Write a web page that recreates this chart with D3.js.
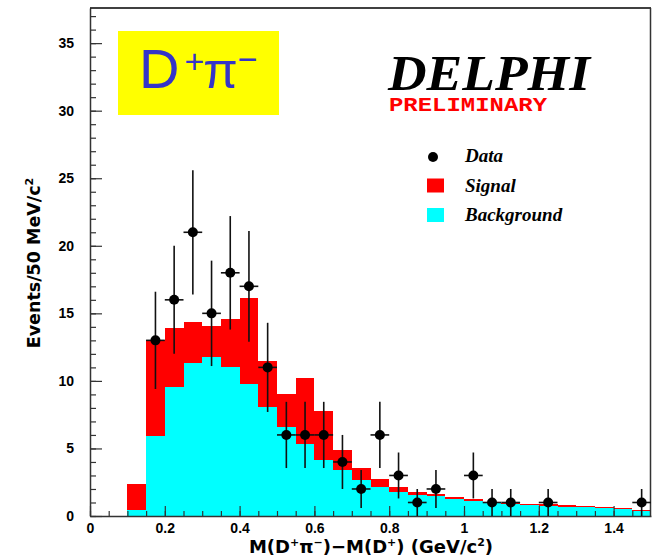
<!DOCTYPE html>
<html>
<head>
<meta charset="utf-8">
<script src="https://cdn.jsdelivr.net/npm/d3@7"></script>
<style>
  body { margin: 0; background: #fff; }
  svg { display: block; }
</style>
</head>
<body>
<svg class="delphi" width="652" height="558"></svg>
<script>
// lower edges of the 50 MeV bins
const binLow = [0.10, 0.15, 0.20, 0.25, 0.30, 0.35, 0.40, 0.45, 0.50, 0.55,
                0.60, 0.65, 0.70, 0.75, 0.80, 0.85, 0.90, 0.95, 1.00, 1.05,
                1.10, 1.15, 1.20, 1.25, 1.30, 1.35, 1.40, 1.45];
const binWidth = 0.05;

// signal + background (red top) and background alone (cyan)
const totalFit = [2.4, 13.05, 13.95, 14.35, 14.1, 14.6, 16.15, 11.45, 9.0, 10.2,
                  7.8, 4.9, 3.55, 2.75, 2.15, 1.8, 1.6, 1.4, 1.25, 1.0,
                  0.95, 0.9, 0.88, 0.8, 0.72, 0.66, 0.58, 0.45];
const background = [0.45, 5.95, 9.55, 11.3, 11.75, 11.0, 9.75, 8.1, 6.6, 5.3,
                    4.15, 3.4, 2.65, 2.15, 1.8, 1.55, 1.45, 1.25, 1.1, 0.95,
                    0.9, 0.82, 0.75, 0.7, 0.64, 0.58, 0.52, 0.38];

// data points
const dataMass   = [0.175, 0.225, 0.275, 0.325, 0.375, 0.425, 0.475, 0.525, 0.575, 0.625,
                    0.675, 0.725, 0.775, 0.825, 0.875, 0.925, 1.025, 1.075, 1.125, 1.225, 1.475];
const dataCounts = [13, 16, 21, 15, 18, 17, 11, 6, 6, 6,
                    4, 2, 6, 3, 1, 2, 3, 1, 1, 1, 1];
const dataErrors = [3.6, 4.0, 4.6, 3.9, 4.2, 4.1, 3.3, 2.45, 2.45, 2.45,
                    2.0, 1.4, 2.45, 1.7, 1.0, 1.4, 1.7, 1.0, 1.0, 1.0, 1.0];

const yMajor = [0, 5, 10, 15, 20, 25, 30, 35];
const xMajor = [0, 0.2, 0.4, 0.6, 0.8, 1.0, 1.2, 1.4];

const legendItems = [
    { label: 'Data', kind: 'dot' },
    { label: 'Signal', kind: 'box', color: '#ff0000' },
    { label: 'Background', kind: 'box', color: '#00ffff' }
];

const svg = d3.select('svg.delphi');

const plotLeft = 90, plotRight = 651, plotTop = 8, plotBottom = 516;

const xScale = d3.scaleLinear().domain([0, 1.5]).range([plotLeft, plotRight]);
const yScale = d3.scaleLinear().domain([0, 37.6]).range([plotBottom, plotTop]);

// histograms
const bins = binLow.map((x, i) => ({ x, total: totalFit[i], bg: background[i] }));

svg.append('g').selectAll('rect').data(bins)
    .enter().append('rect')
    .attr('x', d => xScale(d.x))
    .attr('y', d => yScale(d.total))
    .attr('width', d => xScale(d.x + binWidth) - xScale(d.x))
    .attr('height', d => yScale(0) - yScale(d.total))
    .attr('fill', '#ff0000')
    .attr('shape-rendering', 'crispEdges');

svg.append('g').selectAll('rect').data(bins)
    .enter().append('rect')
    .attr('x', d => xScale(d.x))
    .attr('y', d => yScale(d.bg))
    .attr('width', d => xScale(d.x + binWidth) - xScale(d.x))
    .attr('height', d => yScale(0) - yScale(d.bg))
    .attr('fill', '#00ffff')
    .attr('shape-rendering', 'crispEdges');

// axes
const axisColor = '#333';

const yAxisMinor = d3.axisLeft(yScale).tickValues(d3.range(0, 38, 1)).tickSize(-6).tickFormat('');
const yAxisMajor = d3.axisLeft(yScale).tickValues(yMajor).tickSize(-12).tickSizeOuter(0).tickPadding(16);

svg.append('g').attr('transform', `translate(${plotLeft},0)`).call(yAxisMinor)
    .call(g => g.select('.domain').remove());
svg.append('g').attr('transform', `translate(${plotLeft},0)`).call(yAxisMajor);

const xAxisMinor = d3.axisBottom(xScale).tickValues(d3.range(0, 1.5, 0.05)).tickSize(-5).tickFormat('');
const xAxisMajor = d3.axisBottom(xScale).tickValues(xMajor).tickSize(-10).tickSizeOuter(0)
    .tickPadding(7).tickFormat(d => d3.format('~g')(d));

svg.append('g').attr('transform', `translate(0,${plotBottom})`).call(xAxisMinor)
    .call(g => g.select('.domain').remove());
svg.append('g').attr('transform', `translate(0,${plotBottom})`).call(xAxisMajor);

svg.selectAll('.tick line').attr('stroke', axisColor).attr('stroke-width', 1.2);
svg.selectAll('.domain').attr('stroke', axisColor).attr('stroke-width', 1.5);
svg.selectAll('.tick text')
    .attr('fill', '#000')
    .style('font-family', '"Liberation Sans", Arial, sans-serif')
    .style('font-weight', 'bold')
    .style('font-size', '14px');

// frame top / right
svg.append('line').attr('x1', plotLeft).attr('x2', plotRight).attr('y1', plotTop).attr('y2', plotTop)
    .attr('stroke', '#000').attr('stroke-width', 1.5);
svg.append('line').attr('x1', plotRight - 0.5).attr('x2', plotRight - 0.5).attr('y1', plotTop).attr('y2', plotBottom)
    .attr('stroke', axisColor).attr('stroke-width', 1.5);

// data with error bars
const pts = dataMass.map((m, i) => ({ m, n: dataCounts[i], e: dataErrors[i] }));
const gp = svg.append('g');
gp.selectAll('line.ey').data(pts).enter().append('line')
    .attr('class', 'ey')
    .attr('x1', d => xScale(d.m)).attr('x2', d => xScale(d.m))
    .attr('y1', d => yScale(d.n - d.e)).attr('y2', d => yScale(d.n + d.e))
    .attr('stroke', '#111').attr('stroke-width', 1.6);
gp.selectAll('line.ex').data(pts).enter().append('line')
    .attr('class', 'ex')
    .attr('x1', d => xScale(d.m - binWidth / 2)).attr('x2', d => xScale(d.m + binWidth / 2))
    .attr('y1', d => yScale(d.n)).attr('y2', d => yScale(d.n))
    .attr('stroke', '#111').attr('stroke-width', 1.6);
gp.selectAll('circle').data(pts).enter().append('circle')
    .attr('cx', d => xScale(d.m)).attr('cy', d => yScale(d.n))
    .attr('r', 5).attr('fill', '#000');

// axis titles
const xTitle = svg.append('text')
    .attr('x', 371).attr('y', 553)
    .attr('text-anchor', 'middle')
    .style('font-family', '"DejaVu Sans", sans-serif')
    .style('font-weight', 'bold')
    .style('font-size', '18px');
xTitle.append('tspan').text('M(D');
xTitle.append('tspan').attr('dy', -7).style('font-size', '11px').text('+');
xTitle.append('tspan').attr('dy', 7).text('π');
xTitle.append('tspan').attr('dy', -7).style('font-size', '11px').text('−');
xTitle.append('tspan').attr('dy', 7).text(')−M(D');
xTitle.append('tspan').attr('dy', -7).style('font-size', '11px').text('+');
xTitle.append('tspan').attr('dy', 7).text(') (GeV/c');
xTitle.append('tspan').attr('dy', -7).style('font-size', '11px').text('2');
xTitle.append('tspan').attr('dy', 7).text(')');

const yTitle = svg.append('text')
    .attr('transform', 'translate(40,263) rotate(-90)')
    .attr('text-anchor', 'middle')
    .style('font-family', '"DejaVu Sans", sans-serif')
    .style('font-weight', 'bold')
    .style('font-size', '17.5px');
yTitle.append('tspan').text('Events/50 MeV/c');
yTitle.append('tspan').attr('dy', -7).style('font-size', '11px').text('2');

// D+pi- label box
svg.append('rect').attr('x', 118).attr('y', 31).attr('width', 161).attr('height', 84)
    .attr('fill', '#ffff00');
const title = svg.append('text')
    .attr('x', 139).attr('y', 88)
    .attr('fill', '#3434c8')
    .style('font-family', '"Liberation Sans", Arial, sans-serif')
    .style('font-size', '56px');
title.append('tspan').text('D');
title.append('tspan').attr('dy', -15).attr('dx', 5).style('font-size', '34px').text('+');
title.append('tspan').attr('dy', 15).attr('dx', -1).style('font-size', '50px').text('π');
title.append('tspan').attr('dy', -17).style('font-size', '34px').text('−');

// DELPHI logo
svg.append('text').attr('x', 388).attr('y', 90)
    .attr('textLength', 202).attr('lengthAdjust', 'spacingAndGlyphs')
    .style('font-family', '"Liberation Serif", "Times New Roman", serif')
    .style('font-weight', 'bold').style('font-style', 'italic')
    .style('font-size', '50px')
    .text('DELPHI');
svg.append('text').attr('x', 389).attr('y', 111)
    .attr('fill', '#ff0000')
    .attr('textLength', 158).attr('lengthAdjust', 'spacingAndGlyphs')
    .style('font-family', '"Liberation Mono", "Courier New", monospace')
    .style('font-weight', 'bold')
    .style('font-size', '20px')
    .text('PRELIMINARY');

// legend
const legend = svg.append('g').attr('transform', 'translate(427,148)')
    .selectAll('.legends').data(legendItems)
    .enter().append('g').attr('class', 'legends')
    .attr('transform', (d, i) => `translate(0,${i * 29.5})`);
legend.filter(d => d.kind === 'dot').append('circle')
    .attr('cx', 6).attr('cy', 9).attr('r', 5).attr('fill', '#000');
legend.filter(d => d.kind === 'box').append('rect')
    .attr('x', 0).attr('y', 1).attr('width', 17).attr('height', 14)
    .attr('fill', d => d.color);
legend.append('text')
    .attr('x', 38).attr('y', 14)
    .style('font-family', '"Liberation Serif", "Times New Roman", serif')
    .style('font-weight', 'bold').style('font-style', 'italic')
    .style('font-size', '19px')
    .text(d => d.label);
</script>
</body>
</html>
